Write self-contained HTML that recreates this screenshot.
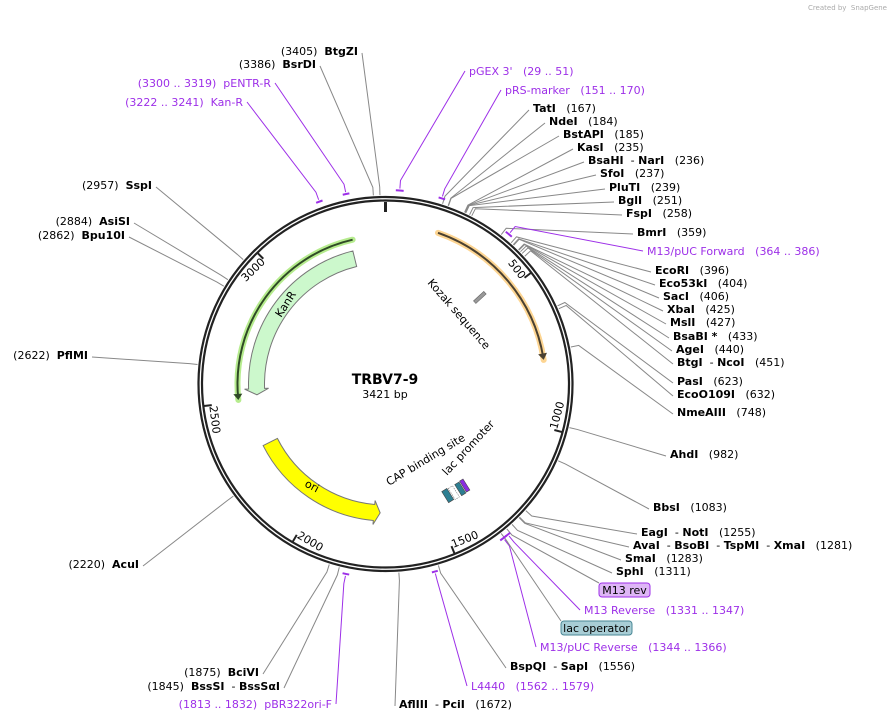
<!DOCTYPE html>
<html><head><meta charset="utf-8"><style>
html,body{margin:0;padding:0;background:#fff;}
svg{display:block;font-family:"DejaVu Sans","Liberation Sans",sans-serif;}
text{white-space:pre;}
</style></head><body>
<svg id="map" width="891" height="721" viewBox="0 0 891 721" xmlns="http://www.w3.org/2000/svg">
<text x="887" y="10" font-size="7" fill="#aaa" text-anchor="end">Created by  SnapGene</text>
<g id="g-lines"></g>
<g id="g-rings"></g>
<g id="g-features"></g>
<g id="g-labels"></g>
<text x="385" y="384" font-size="14" font-weight="bold" text-anchor="middle">TRBV7-9</text>
<text x="385" y="398" font-size="11" text-anchor="middle">3421 bp</text>
</svg>
<script>
const TOTAL = 3421;
const tickValues = [500,1000,1500,2000,2500,3000];
// restriction enzymes (right side)
const enzRNames = ["TatI","NdeI","BstAPI","KasI","BsaHI|NarI","SfoI","PluTI","BglI","FspI","BmrI","EcoRI","Eco53kI","SacI","XbaI","MslI","BsaBI *","AgeI","BtgI|NcoI","PasI","EcoO109I","NmeAIII","AhdI","BbsI","EagI|NotI","AvaI|BsoBI|TspMI|XmaI","SmaI","SphI","BspQI|SapI","AflIII|PciI"];
const enzRBp = [167,184,185,235,236,237,239,251,258,359,396,404,406,425,427,433,440,451,623,632,748,982,1083,1255,1281,1283,1311,1556,1672];
const enzRLayoutX = [533,549,563,577,588,600,609,618,626,637,655,659,663,667,670,673,676,677,677,677,677,670,653,641,633,625,616,510,399];
const enzRLayoutY = [108,121,134,147,160,173,187,200,213,232,270,283,296,309,322,336,349,362,381,394,412,454,507,532,545,558,571,666,704];
// restriction enzymes (left side)
const enzLNames = ["BtgZI","BsrDI","SspI","AsiSI","Bpu10I","PflMI","AcuI","BciVI","BssSI|BssSαI"];
const enzLBp = [3405,3386,2957,2884,2862,2622,2220,1875,1845];
const enzLLayoutX = [358,316,152,130,125,88,139,259,280];
const enzLLayoutY = [51,64,185,221,235,355,564,672,686];
// primers
const primerNames = ["pGEX 3'","pRS-marker","M13/pUC Forward","M13 Reverse","M13/pUC Reverse","L4440","pBR322ori-F","pENTR-R","Kan-R"];
const primerStart = [29,151,364,1331,1344,1562,1813,3300,3222];
const primerEnd = [51,170,386,1347,1366,1579,1832,3319,3241];
const primerSide = ["R","R","R","R","R","R","L","L","L"];
const primerLayoutX = [469,505,647,584,540,471,332,271,243];
const primerLayoutY = [71,90,251,610,647,686,704,83,102];
// features
const insertStart = 182, insertEnd = 773;
const kanLineStart = 3299, kanLineEnd = 2507;
const kanStart = 3290, kanEnd = 2520;
const oriStart = 2312, oriEnd = 1733;
const kozakBp = 450;
const m13revBp = 1331, lacOpBp = 1352;

const NS="http://www.w3.org/2000/svg";
const CX=385.5, CY=384;
const PURPLE="#9d2fe8";
function ang(bp){return bp/TOTAL*2*Math.PI;}
function pt(r,bp){const a=ang(bp);return [CX+r*Math.sin(a),CY-r*Math.cos(a)];}
function mk(tag,attrs,parent){const e=document.createElementNS(NS,tag);for(const k in attrs)e.setAttribute(k,attrs[k]);parent.appendChild(e);return e;}
function arcPath(r,b1,b2,cw){const p1=pt(r,b1),p2=pt(r,b2);let d=cw?(b2-b1):(b1-b2);if(d<0)d+=TOTAL;const large=d>TOTAL/2?1:0;return `M${p1[0]},${p1[1]} A${r},${r} 0 ${large} ${cw?1:0} ${p2[0]},${p2[1]}`;}
const gL=document.getElementById('g-lines'),gR=document.getElementById('g-rings'),gF=document.getElementById('g-features'),gT=document.getElementById('g-labels');

// rings
let c1=mk('circle',{cx:CX,cy:CY,r:187,fill:'none',stroke:'#222','stroke-width':2.2},gR);


let c2=mk('circle',{cx:CX,cy:CY,r:183.5,fill:'none',stroke:'#222','stroke-width':2.2},gR);


// origin tick
{const a=pt(182,0),b=pt(172,0);const l=mk('line',{x1:a[0],y1:a[1],x2:b[0],y2:b[1],stroke:'#222','stroke-width':3},gR);

}
tickValues.forEach(v=>{
  const a=pt(183,v),b=pt(175,v);
  const l=mk('line',{x1:a[0],y1:a[1],x2:b[0],y2:b[1],stroke:'#222','stroke-width':2},gR);
  
  
  let deg=v/TOTAL*360; let flip=false; let rot=deg;
  if(deg>90&&deg<270){rot=deg-180;flip=true;} else if(deg>=270) rot=deg-360;
  const p=pt(174,v-3);
  const t=mk('text',{x:p[0],y:p[1],'font-size':11,'text-anchor':flip?'start':'end','dominant-baseline':'central',transform:`rotate(${rot} ${p[0]} ${p[1]})`},gR);
  t.textContent=v;
  
  
});

function leader(bp,r0,lx,ly,color,name){
  const a=pt(r0,bp),b=pt(r0+8,bp);
  const pl=mk('polyline',{points:`${a[0]},${a[1]} ${b[0]},${b[1]} ${lx},${ly}`,fill:'none',stroke:color,'stroke-width':1},gL);
  
  
}
function labelText(parts,num,x,y,side,color,boldNames,name){
  const t=mk('text',{x:x,y:y,'font-size':11,'dominant-baseline':'central','text-anchor':side==='R'?'start':'end',fill:color},gT);
  
  
  const addName=()=>{parts.forEach((p,i)=>{if(i>0){const s=mk('tspan',{},t);s.textContent='  - ';}const s=mk('tspan',boldNames?{'font-weight':'bold'}:{},t);s.textContent=p;});};
  if(side==='R'){addName();const s=mk('tspan',{},t);s.textContent='   '+num;}
  else{const s=mk('tspan',{},t);s.textContent=num+'  ';addName();}
}
enzRNames.forEach((n,i)=>{
  const x=enzRLayoutX[i],y=enzRLayoutY[i];
  leader(enzRBp[i],189,x-4,y+2,'#888','enzyme-leader-'+i);
  labelText(n.split('|'),'('+enzRBp[i]+')',x,y,'R','#000',true,'enzyme-label-'+n.split('|')[0].toLowerCase().replace(/[^a-z0-9]/g,''));
});
enzLNames.forEach((n,i)=>{
  const x=enzLLayoutX[i],y=enzLLayoutY[i];
  leader(enzLBp[i],189,x+4,y+2,'#888','enzyme-leader-left-'+i);
  labelText(n.split('|'),'('+enzLBp[i]+')',x,y,'L','#000',true,'enzyme-label-'+n.split('|')[0].toLowerCase().replace(/[^a-z0-9]/g,''));
});
primerNames.forEach((n,i)=>{
  const s=primerStart[i],e=primerEnd[i],side=primerSide[i];
  const p=mk('path',{d:arcPath(194,s,e,true),fill:'none',stroke:PURPLE,'stroke-width':2},gF);
  
  
  const mid=(s+e)/2,x=primerLayoutX[i],y=primerLayoutY[i];
  leader(mid,196,side==='R'?x-4:x+4,y,PURPLE,'primer-leader-'+i);
  labelText([n],'('+s+' .. '+e+')',x,y,side,PURPLE,false,'primer-label-'+i);
});

// boxed labels
function boxLabel(bp,x,y,w,txt,fill,stroke,name){
  leader(bp,189,x,y,'#888',name+'-leader');
  const r=mk('rect',{x:x,y:y,width:w,height:14,rx:3,fill:fill,stroke:stroke,'stroke-width':1},gT);
  
  
  const t=mk('text',{x:x+w/2,y:y+7.5,'font-size':11,'text-anchor':'middle','dominant-baseline':'central'},gT);
  t.textContent=txt;
  
  
}
boxLabel(m13revBp,599,583,51,'M13 rev','#deb6f6',PURPLE,'m13-rev');
boxLabel(lacOpBp,561,621,71,'lac operator','#a8cdd5','#4a8896','lac-operator');

// insert line feature
function lineFeature(b1,b2,r,cw,halo,core,name){
  const h=mk('path',{d:arcPath(r,b1,b2,cw),fill:'none',stroke:halo,'stroke-width':6,'stroke-linecap':'round'},gF);
  
  
  const c=mk('path',{d:arcPath(r,b1,b2-(cw?8:-8),cw),fill:'none',stroke:core,'stroke-width':2},gF);
  
  
  const tip=pt(r,b2),bb=b2-(cw?22:-22),l=pt(r-4.5,bb),rr=pt(r+4.5,bb);
  const ar=mk('polygon',{points:`${tip[0]},${tip[1]} ${l[0]},${l[1]} ${rr[0]},${rr[1]}`,fill:core},gF);
  
  
}
lineFeature(insertStart,insertEnd,160,true,'#fdd592','#4a4030','insert-feature');
lineFeature(kanLineStart,kanLineEnd,148,false,'#b6ec8e','#2f4a26','kanr-cds-line');

function fatArrow(b1,b2,r,w,cw,fill,name){
  const hl=cw?-26:26; const bh=b2+hl;
  const o1=pt(r+w/2,b1),o2=pt(r+w/2,bh),i2=pt(r-w/2,bh),i1=pt(r-w/2,b1);
  const h1=pt(r+w/2+4,bh),h2=pt(r-w/2-4,bh),tip=pt(r,b2);
  let d=cw?(bh-b1):(b1-bh); if(d<0)d+=TOTAL; const lg=d>TOTAL/2?1:0;
  const path=`M${o1[0]},${o1[1]} A${r+w/2},${r+w/2} 0 ${lg} ${cw?1:0} ${o2[0]},${o2[1]} L${h1[0]},${h1[1]} L${tip[0]},${tip[1]} L${h2[0]},${h2[1]} L${i2[0]},${i2[1]} A${r-w/2},${r-w/2} 0 ${lg} ${cw?0:1} ${i1[0]},${i1[1]} Z`;
  const p=mk('path',{d:path,fill:fill,stroke:'#777','stroke-width':1},gF);
  
  
}
fatArrow(kanStart,kanEnd,129,16,false,'#ccf8cc','kanr-arrow');
fatArrow(oriStart,oriEnd,129,16,false,'#ffff00','ori-arrow');

// kozak
{const p=pt(128,kozakBp);const rot=kozakBp/TOTAL*360;
const r=mk('rect',{x:p[0]-1.5,y:p[1]-7,width:3.5,height:14,fill:'#999',stroke:'#666','stroke-width':0.6,transform:`rotate(${rot} ${p[0]} ${p[1]})`},gF);

}

// static feature texts & lac marks
const gx=document.getElementById('g-features');
</script>
<svg style="position:absolute;left:0;top:0" width="891" height="721">
<g font-family="DejaVu Sans, Liberation Sans, sans-serif" font-size="11">
<text x="427" y="283" transform="rotate(49 427 283)">Kozak sequence</text>
<text x="281" y="318" transform="rotate(-57 281 318)">KanR</text>
<text x="304" y="486" transform="rotate(28 304 486)">ori</text>
<text x="389" y="486" transform="rotate(-31 389 486)">CAP binding site</text>
<text x="447" y="476" transform="rotate(-47 447 476)">lac promoter</text>
<rect x="445" y="489" width="6" height="13" fill="#2e7f92" stroke="#444" stroke-width="0.6" transform="rotate(-32 448 496)"/>
<rect x="451" y="486" width="5" height="13" fill="#fff" stroke="#777" stroke-width="0.6" stroke-dasharray="1.5 1" transform="rotate(-32 454 492)"/>
<rect x="458" y="482" width="5" height="13" fill="#2e7f92" stroke="#444" stroke-width="0.6" transform="rotate(-32 461 489)"/>
<rect x="463" y="479" width="4" height="13" fill="#8a2be2" stroke="#444" stroke-width="0.6" transform="rotate(-32 465 486)"/>
</g>
</svg>
</body></html>
